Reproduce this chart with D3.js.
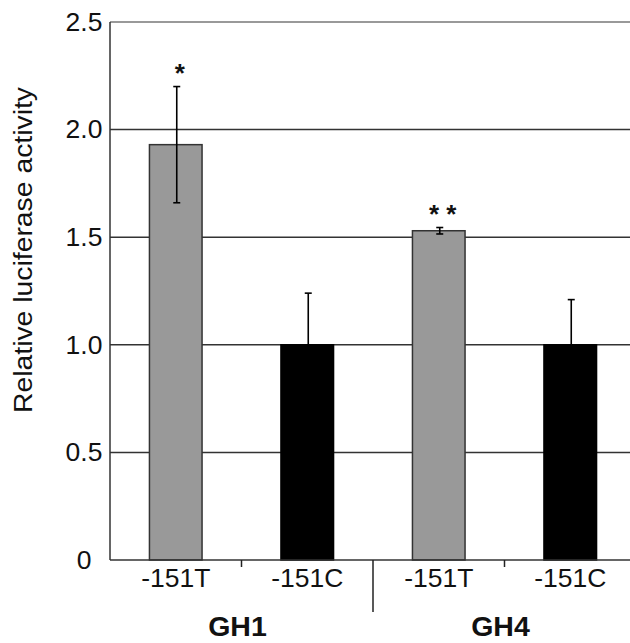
<!DOCTYPE html>
<html>
<head>
<meta charset="utf-8">
<script src="https://cdn.jsdelivr.net/npm/d3@7"></script>
<style>
  html, body { margin: 0; padding: 0; background: #fff; }
  svg { display: block; font-family: "Liberation Sans", Arial, sans-serif; }
</style>
</head>
<body>
<svg id="chart" width="630" height="643"></svg>
<script>
// ---- data ----
const groups = ["GH1", "GH1", "GH4", "GH4"];
const categories = ["-151T", "-151C", "-151T", "-151C"];
const values = [1.93, 1.00, 1.53, 1.00];
const errors = [0.27, 0.24, 0.015, 0.21];
const significance = ["*", "", "* *", ""];
const barFills = ["#999999", "#000000", "#999999", "#000000"];
const yTicks = [0, 0.5, 1.0, 1.5, 2.0, 2.5];
const yTickLabels = ["0", "0.5", "1.0", "1.5", "2.0", "2.5"];
const groupLabels = ["GH1", "GH4"];
const yTitle = "Relative luciferase activity";

(function () {
// ---- layout ----
const svg = d3.select("#chart");
const mLeft = 110, mRight = 636, mTop = 22, mBottom = 560;

const x = d3.scaleBand()
  .domain(d3.range(categories.length))
  .range([mLeft, mRight])
  .paddingInner(0.6)
  .paddingOuter(0.3);
const y = d3.scaleLinear().domain([0, 2.5]).range([mBottom, mTop]);
const step = x.step(), bw = x.bandwidth();
const gap = (step - bw) / 2;

// gridlines
svg.append("g").selectAll("line")
  .data(yTicks.filter(d => d > 0))
  .join("line")
  .attr("x1", mLeft).attr("x2", 630)
  .attr("y1", d => y(d)).attr("y2", d => y(d))
  .attr("stroke", d => d === 2.5 ? "#777" : "#333")
  .attr("stroke-width", 1.5);

// bars
svg.append("g").selectAll("rect")
  .data(values)
  .join("rect")
  .attr("x", (d, i) => x(i))
  .attr("width", bw)
  .attr("y", d => y(d))
  .attr("height", d => y(0) - y(d))
  .attr("fill", (d, i) => barFills[i])
  .attr("stroke", (d, i) => barFills[i] === "#000000" ? "#000" : "#333")
  .attr("stroke-width", 1.5);

// error bars
const eb = svg.append("g").attr("stroke", "#000").attr("stroke-width", 1.6);
values.forEach((v, i) => {
  const cx = x(i) + bw / 2 + 1;
  eb.append("line").attr("x1", cx).attr("x2", cx)
    .attr("y1", y(v + errors[i])).attr("y2", y(v - errors[i]));
  [v + errors[i], v - errors[i]].forEach(e => {
    eb.append("line").attr("x1", cx - 3.5).attr("x2", cx + 3.5)
      .attr("y1", y(e)).attr("y2", y(e));
  });
});

// significance marks
svg.append("g").selectAll("text")
  .data(significance)
  .join("text")
  .attr("x", (d, i) => x(i) + bw / 2 + 4)
  .attr("y", (d, i) => y(values[i] + errors[i]) - 5)
  .attr("text-anchor", "middle")
  .attr("font-size", 26)
  .attr("font-weight", "bold")
  .attr("dy", "0em")
  .attr("fill", "#111")
  .text(d => d);

// axes lines
svg.append("line").attr("x1", mLeft).attr("x2", mLeft).attr("y1", mTop).attr("y2", mBottom)
  .attr("stroke", "#333").attr("stroke-width", 1.5);
svg.append("line").attr("x1", mLeft).attr("x2", 630).attr("y1", mBottom).attr("y2", mBottom)
  .attr("stroke", "#333").attr("stroke-width", 1.5);

// x separator ticks
svg.append("g").selectAll("line")
  .data(d3.range(1, categories.length))
  .join("line")
  .attr("x1", i => x(i) - gap).attr("x2", i => x(i) - gap)
  .attr("y1", mBottom)
  .attr("y2", i => groups[i] !== groups[i - 1] ? 612 : 567)
  .attr("stroke", "#222").attr("stroke-width", 1.5);

// y tick labels
svg.append("g").selectAll("text")
  .data(yTicks)
  .join("text")
  .attr("x", 84)
  .attr("y", d => y(d))
  .attr("dy", "0.33em")
  .attr("text-anchor", "middle")
  .attr("font-size", 26.5)
  .attr("fill", "#111")
  .text((d, i) => yTickLabels[i]);

// x category labels
svg.append("g").selectAll("text")
  .data(categories)
  .join("text")
  .attr("x", (d, i) => x(i) + bw / 2)
  .attr("y", 587)
  .attr("text-anchor", "middle")
  .attr("font-size", 26.5)
  .attr("fill", "#111")
  .text(d => d);

// group labels
svg.append("g").selectAll("text")
  .data(groupLabels)
  .join("text")
  .attr("x", g => {
    const idx = groups.map((d, i) => d === g ? i : -1).filter(i => i >= 0);
    return (x(idx[0]) + x(idx[idx.length - 1]) + bw) / 2 - 4;
  })
  .attr("y", 636)
  .attr("text-anchor", "middle")
  .attr("font-size", 28.5)
  .attr("font-weight", "bold")
  .attr("fill", "#111")
  .text(d => d);

// y title
svg.append("text")
  .attr("transform", `translate(32, ${(87 + 413) / 2}) rotate(-90)`)
  .attr("text-anchor", "middle")
  .attr("font-size", 26)
  .attr("textLength", 326)
  .attr("lengthAdjust", "spacingAndGlyphs")
  .attr("fill", "#111")
  .text(yTitle);
})();
</script>
</body>
</html>
